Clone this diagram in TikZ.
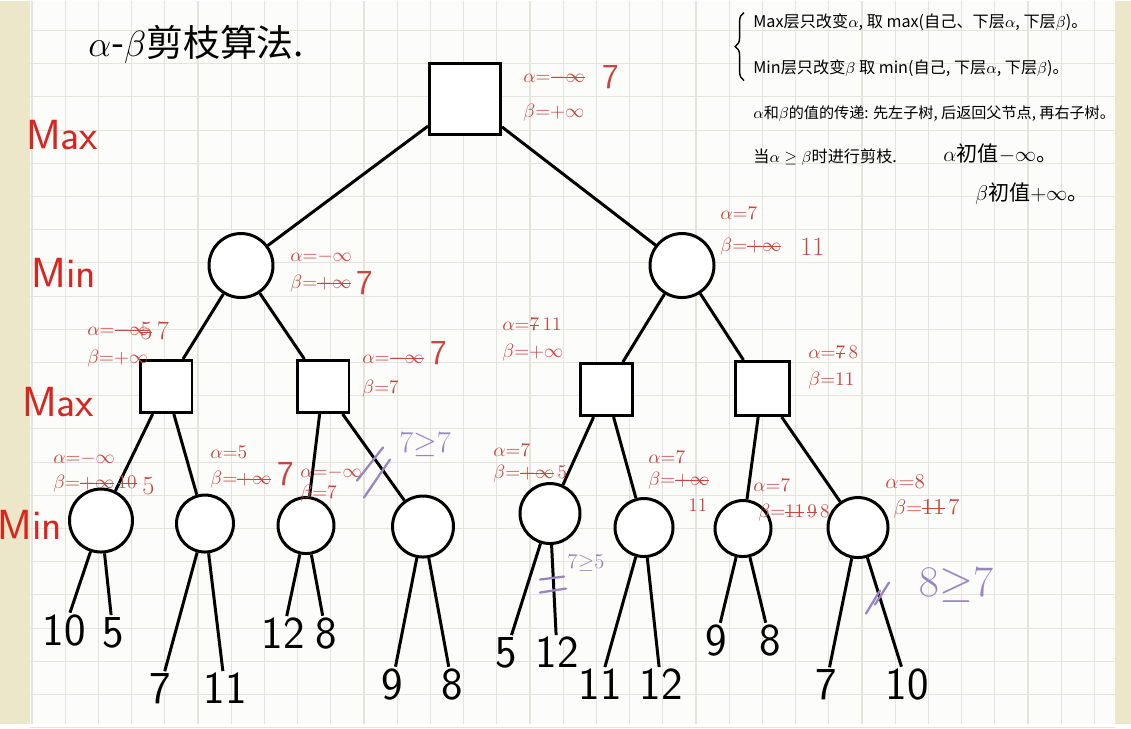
\documentclass[tikz,border=0pt]{standalone}
\usepackage{fontspec}
\newfontfamily\cjk{Noto Sans CJK SC}
\usetikzlibrary{decorations.pathreplacing}
\definecolor{annored}{HTML}{C9453F}
\definecolor{levelred}{HTML}{D7261F}
\definecolor{prune}{HTML}{9A86BF}
\definecolor{gridc}{HTML}{E4E4DC}
\definecolor{paper}{HTML}{FCFCFA}
\definecolor{strip}{HTML}{ECE7C9}
\newsavebox\strkbox
\newcommand\strk[1]{\sbox\strkbox{#1}\usebox\strkbox\kern-\wd\strkbox\rule[0.55ex]{\wd\strkbox}{0.7pt}}
\begin{document}
\begin{tikzpicture}[x=0.02cm,y=-0.02cm,
  edge/.style={line width=1.7pt,black},
  sqnode/.style={draw,line width=1.7pt,inner sep=0pt,fill=white},
  cirnode/.style={draw,circle,line width=1.7pt,inner sep=0pt,fill=white},
  leaf/.style={font=\fontsize{26}{26}\selectfont\sffamily,inner sep=1pt},
  lvl/.style={text=levelred,font=\fontsize{24}{24}\selectfont\sffamily,inner sep=0pt},
  anno/.style={text=annored,font=\fontsize{11}{13}\selectfont,anchor=west,inner sep=0pt},
  annobig/.style={text=annored,font=\fontsize{20}{20}\selectfont\sffamily,anchor=west,inner sep=0pt},
  annomid/.style={text=annored,font=\fontsize{15}{15}\selectfont,anchor=west,inner sep=0pt},
  prunetext/.style={text=prune,inner sep=0pt},
  prunemark/.style={prune,line width=1.3pt,line cap=round},
  note/.style={font=\fontsize{9.2}{11}\selectfont\cjk,anchor=west,inner sep=0pt}]
% background paper
\fill[paper] (0,0) rectangle (1131,723);
\fill[strip] (0,0) rectangle (30,723);
\fill[strip] (1115,0) rectangle (1131,723);
\foreach \k in {0,...,32} \draw[gridc,line width=0.6pt] ({32+33.2*\k},0) -- ({32+33.2*\k},723);
\foreach \k in {0,...,21} \draw[gridc,line width=0.6pt] (30,{30+33.2*\k}) -- (1115,{30+33.2*\k});
\useasboundingbox (0,0) rectangle (1131,723);

% title
\node[font=\fontsize{21}{21}\selectfont\cjk,anchor=west,inner sep=0pt] (title) at (88,44) {$\alpha$-$\beta$剪枝算法.};

% notes
\coordinate (bt) at (744,12);
\coordinate (bb) at (744,80);
\draw[decorate,decoration={brace,amplitude=5pt},line width=0.8pt] (bb) -- (bt);
\node[note] (n1) at (753,22) {Max层只改变$\alpha$, 取 max(自己、下层$\alpha$, 下层$\beta$)。};
\node[note] (n2) at (753,68) {Min层只改变$\beta$ 取 min(自己, 下层$\alpha$, 下层$\beta$)。};
\node[note,font=\fontsize{8.6}{11}\selectfont\cjk] (n3) at (753,113) {$\alpha$和$\beta$的值的传递: 先左子树, 后返回父节点, 再右子树。};
\node[note] (n4) at (753,157) {当$\alpha\geq\beta$时进行剪枝.};
\node[note,font=\fontsize{12}{14}\selectfont\cjk] (n5) at (943,153) {$\alpha$初值$-\infty$。};
\node[note,font=\fontsize{12}{14}\selectfont\cjk] (n6) at (975,193) {$\beta$初值$+\infty$。};

% level labels
\node[lvl] (L0) at (62,135) {Max};
\node[lvl] (L1) at (64,272) {Min};
\node[lvl] (L2) at (58,402) {Max};
\node[lvl] (L3) at (30,524) {Min};

% tree nodes
\node[sqnode,minimum size=1.42cm] (r) at (465,98) {};
\node[cirnode,minimum size=1.28cm] (a) at (241,265) {};
\node[cirnode,minimum size=1.28cm] (b) at (682,265) {};
\node[sqnode,minimum size=1.04cm] (a1) at (166,386) {};
\node[sqnode,minimum size=1.04cm] (a2) at (323,386) {};
\node[sqnode,minimum size=1.04cm] (b1) at (606,389) {};
\node[sqnode,minimum size=1.08cm] (b2) at (762,388) {};
\node[cirnode,minimum size=1.26cm] (c1) at (101,520) {};
\node[cirnode,minimum size=1.14cm] (c2) at (205,523) {};
\node[cirnode,minimum size=1.12cm] (c3) at (306,525) {};
\node[cirnode,minimum size=1.22cm] (c4) at (423,526) {};
\node[cirnode,minimum size=1.20cm] (c5) at (550,513) {};
\node[cirnode,minimum size=1.16cm] (c6) at (644,527) {};
\node[cirnode,minimum size=1.12cm] (c7) at (743,528) {};
\node[cirnode,minimum size=1.20cm] (c8) at (858,527) {};

% leaves
\node[leaf] (l1) at (64,630) {10};
\node[leaf] (l2) at (113,632) {5};
\node[leaf] (l3) at (160,688) {7};
\node[leaf] (l4) at (225,688) {11};
\node[leaf] (l5) at (283,633) {12};
\node[leaf] (l6) at (326,633) {8};
\node[leaf] (l7) at (392,684) {9};
\node[leaf] (l8) at (452,684) {8};
\node[leaf] (l9) at (506,652) {5};
\node[leaf] (l10) at (557,652) {12};
\node[leaf] (l11) at (600,684) {11};
\node[leaf] (l12) at (661,684) {12};
\node[leaf] (l13) at (716,640) {9};
\node[leaf] (l14) at (770,640) {8};
\node[leaf] (l15) at (826,684) {7};
\node[leaf] (l16) at (907,684) {10};

% edges
\draw[edge] (r) -- (a);
\draw[edge] (r) -- (b);
\draw[edge] (a) -- (a1);
\draw[edge] (a) -- (a2);
\draw[edge] (b) -- (b1);
\draw[edge] (b) -- (b2);
\draw[edge] (a1) -- (c1);
\draw[edge] (a1) -- (c2);
\draw[edge] (a2) -- (c3);
\draw[edge] (a2) -- (c4);
\draw[edge] (b1) -- (c5);
\draw[edge] (b1) -- (c6);
\draw[edge] (b2) -- (c7);
\draw[edge] (b2) -- (c8);
\draw[edge] (c1) -- (l1);
\draw[edge] (c1) -- (l2);
\draw[edge] (c2) -- (l3);
\draw[edge] (c2) -- (l4);
\draw[edge] (c3) -- (l5);
\draw[edge] (c3) -- (l6);
\draw[edge] (c4) -- (l7);
\draw[edge] (c4) -- (l8);
\draw[edge] (c5) -- (l9);
\draw[edge] (c5) -- (l10);
\draw[edge] (c6) -- (l11);
\draw[edge] (c6) -- (l12);
\draw[edge] (c7) -- (l13);
\draw[edge] (c7) -- (l14);
\draw[edge] (c8) -- (l15);
\draw[edge] (c8) -- (l16);

% annotations
\node[anno] (rA) at (523,77) {$\alpha{=}$\strk{$-\infty$}};
\node[annobig] (rA2) at (602,77) {7};
\node[anno] (rB) at (523,112) {$\beta{=}{+}\infty$};

\node[anno] (aA) at (290,256) {$\alpha{=}{-}\infty$};
\node[anno] (aB) at (290,283) {$\beta{=}$\strk{${+}\infty$}};
\node[annobig] (aB2) at (356,283) {7};

\node[anno] (bA) at (720,213) {$\alpha{=}7$};
\node[anno] (bB) at (720,246) {$\beta{=}$\strk{${+}\infty$}};
\node[annomid] (bB2) at (800,246) {11};

\node[anno] (a1A) at (87,330) {$\alpha{=}$\strk{${-}\infty$}};
\node[annomid] (a1A2) at (140,330) {\strk{5}\,7};
\node[anno] (a1B) at (87,358) {$\beta{=}{+}\infty$};

\node[anno] (a2A) at (362,358) {$\alpha{=}$\strk{${-}\infty$}};
\node[annobig] (a2A2) at (430,353) {7};
\node[anno] (a2B) at (362,388) {$\beta{=}7$};

\node[anno] (b1A) at (502,324) {$\alpha{=}$\strk{$7$}\,11};
\node[anno] (b1B) at (502,352) {$\beta{=}{+}\infty$};

\node[anno] (b2A) at (808,352) {$\alpha{=}$\strk{$7$}\,8};
\node[anno] (b2B) at (808,380) {$\beta{=}11$};

\node[anno] (c1A) at (53,458) {$\alpha{=}{-}\infty$};
\node[anno] (c1B) at (53,483) {$\beta{=}$\strk{${+}\infty$}\,\strk{10}};
\node[annomid] (c1B2) at (142,485) {5};

\node[anno] (c2A) at (210,452) {$\alpha{=}5$};
\node[anno] (c2B) at (210,479) {$\beta{=}$\strk{${+}\infty$}};
\node[annobig] (c2B2) at (277,474) {7};

\node[anno] (c3A) at (300,472) {$\alpha{=}{-}\infty$};
\node[anno] (c3B) at (300,493) {$\beta{=}7$};

\node[anno] (c5A) at (493,450) {$\alpha{=}7$};
\node[anno] (c5B) at (493,473) {$\beta{=}$\strk{${+}\infty$}\,5};

\node[anno] (c6A) at (648,457) {$\alpha{=}7$};
\node[anno] (c6B) at (648,480) {$\beta{=}$\strk{${+}\infty$}};
\node[anno] (c6C) at (688,505) {11};

\node[anno] (c7A) at (753,485) {$\alpha{=}7$};
\node[anno] (c7B) at (758,512) {$\beta{=}$\strk{11}\,\strk{9}\,8};

\node[anno,font=\fontsize{13}{15}\selectfont] (c8A) at (885,481) {$\alpha{=}8$};
\node[anno,font=\fontsize{13}{15}\selectfont] (c8B) at (893,508) {$\beta{=}$\strk{11}\,7};

% pruning marks
\draw[prunemark] (357,480) -- (383,447);
\draw[prunemark] (364,497) -- (390,459);
\node[prunetext,font=\fontsize{17}{17}\selectfont] (p1) at (425,444) {$7{\geq}7$};

\draw[prunemark] (540,579) -- (564,576);
\draw[prunemark] (540,592) -- (566,588);
\node[prunetext,font=\fontsize{12}{12}\selectfont] (p2) at (586,563) {$7{\geq}5$};

\draw[prunemark] (866,613) -- (880,590);
\draw[prunemark] (875,604) -- (889,582);
\node[prunetext,font=\fontsize{26}{26}\selectfont] (p3) at (956,585) {$8{\geq}7$};
\end{tikzpicture}
\end{document}
